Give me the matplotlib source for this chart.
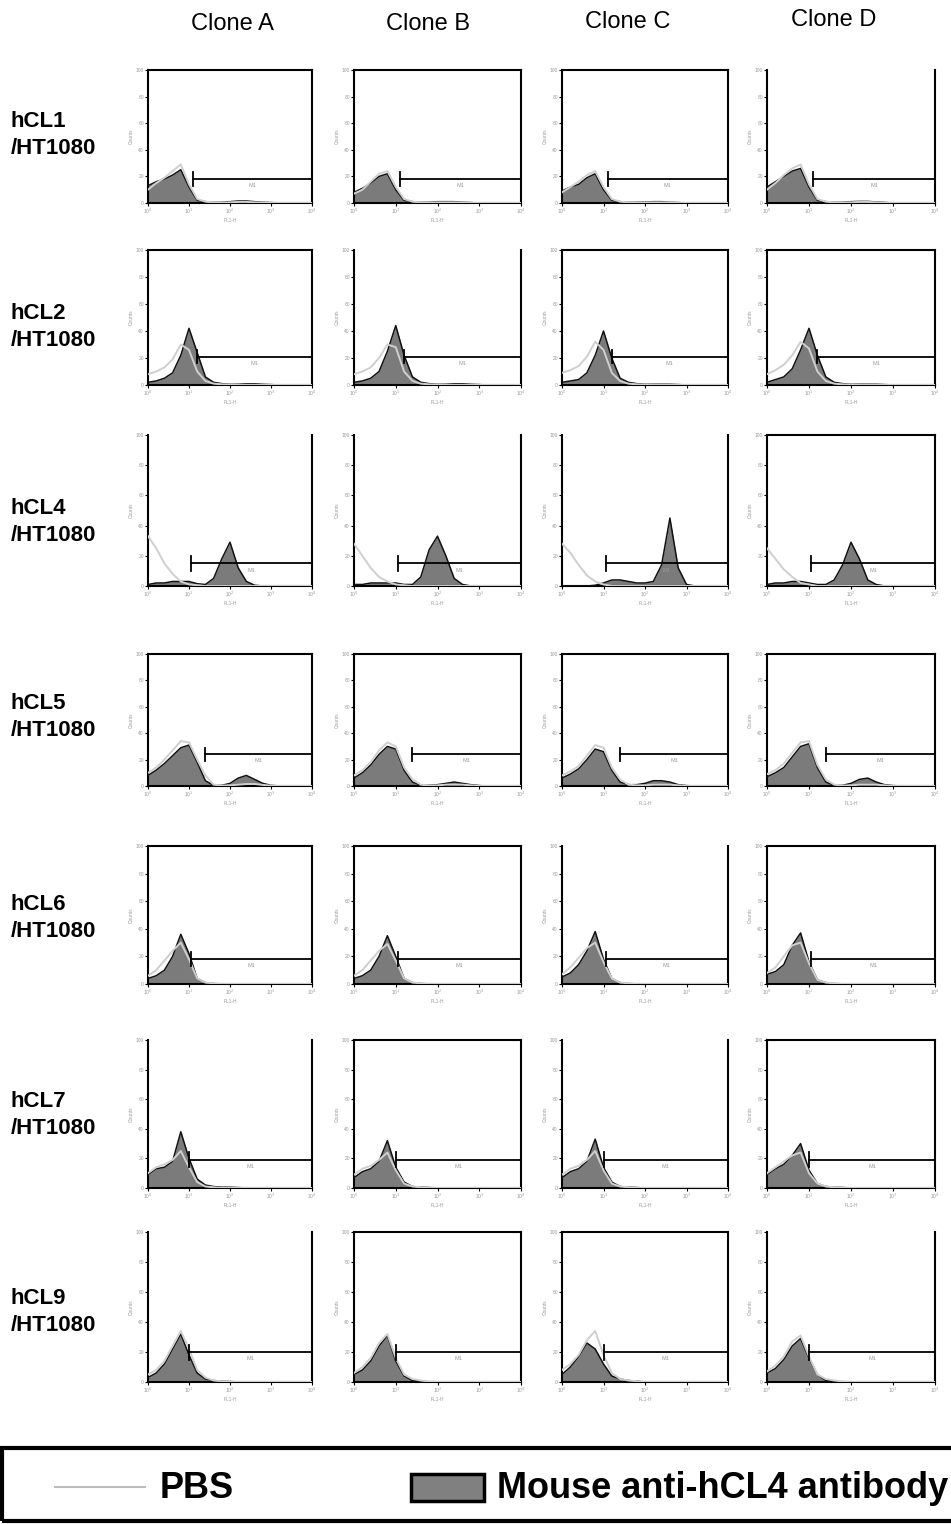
import matplotlib
matplotlib.use("Agg")
import matplotlib.pyplot as plt
import numpy as np
from matplotlib.patches import Rectangle
from matplotlib.lines import Line2D

plt.rcParams['font.family'] = ['Liberation Sans', 'DejaVu Sans']

# ---- data ----
clones = ['Clone A', 'Clone B', 'Clone C', 'Clone D']
cell_lines = ['hCL1', 'hCL2', 'hCL4', 'hCL5', 'hCL6', 'hCL7', 'hCL9']

# log10 fluorescence sample points (21 points, 10^0 .. 10^4)
decades = np.round(np.arange(0, 4.01, 0.2), 1)

# counts (percent of axis height), one list per clone A..D
ab_hcl1 = [[13, 16, 18, 21, 25, 12, 2, 1, 0.5, 0.5, 1, 1.5, 1.5, 1, 0.5, 0.3, 0, 0, 0, 0, 0],
           [8, 11, 15, 20, 22, 10, 2, 1, 0.5, 0.5, 1, 1, 1, 0.5, 0.3, 0, 0, 0, 0, 0, 0],
           [9, 12, 14, 19, 22, 10, 2, 1, 0.5, 0.5, 0.8, 1, 1, 0.5, 0.3, 0, 0, 0, 0, 0, 0],
           [12, 16, 20, 24, 26, 12, 2, 1, 0.5, 0.5, 1, 1.2, 1.2, 0.8, 0.4, 0, 0, 0, 0, 0, 0]]
pbs_hcl1 = [[10, 15, 19, 24, 29, 14, 3, 1, 0.5, 0.3, 0.5, 0.8, 0.8, 0.5, 0.2, 0, 0, 0, 0, 0, 0],
            [7, 10, 16, 22, 24, 12, 3, 1, 0.5, 0.3, 0.5, 0.5, 0.5, 0.3, 0, 0, 0, 0, 0, 0, 0],
            [8, 12, 16, 21, 24, 12, 3, 1, 0.5, 0.3, 0.5, 0.5, 0.5, 0.3, 0, 0, 0, 0, 0, 0, 0],
            [10, 15, 21, 26, 29, 14, 3, 1, 0.5, 0.3, 0.5, 0.8, 0.8, 0.5, 0.2, 0, 0, 0, 0, 0, 0]]

ab_hcl2 = [[2, 3, 5, 9, 22, 42, 24, 6, 2, 1, 0.5, 0.5, 0.8, 0.8, 0.5, 0.3, 0, 0, 0, 0, 0],
           [2, 3, 5, 10, 25, 44, 22, 6, 2, 1, 0.5, 0.5, 0.8, 0.8, 0.5, 0.3, 0, 0, 0, 0, 0],
           [2, 3, 4, 9, 22, 40, 20, 5, 2, 1, 0.5, 0.5, 0.5, 0.5, 0.3, 0, 0, 0, 0, 0, 0],
           [2, 4, 6, 12, 26, 42, 22, 6, 2, 1, 0.5, 0.5, 0.5, 0.5, 0.3, 0, 0, 0, 0, 0, 0]]
pbs_hcl2 = [[8, 10, 13, 19, 30, 26, 10, 3, 1, 0.5, 0.3, 0, 0, 0, 0, 0, 0, 0, 0, 0, 0],
            [8, 10, 13, 20, 30, 28, 10, 3, 1, 0.5, 0.3, 0, 0, 0, 0, 0, 0, 0, 0, 0, 0],
            [9, 11, 14, 21, 32, 26, 9, 3, 1, 0.5, 0.3, 0, 0, 0, 0, 0, 0, 0, 0, 0, 0],
            [8, 11, 15, 22, 32, 27, 10, 3, 1, 0.5, 0.3, 0, 0, 0, 0, 0, 0, 0, 0, 0, 0]]

ab_hcl4 = [[1, 2, 2, 3, 3, 3, 1.5, 1, 5, 18, 29, 12, 3, 0.5, 0, 0, 0, 0, 0, 0, 0],
           [1, 1, 2, 2, 2, 2, 1, 1, 6, 24, 33, 20, 5, 1, 0, 0, 0, 0, 0, 0, 0],
           [0, 0, 0, 0, 0.5, 2, 4, 4, 3, 2, 2, 3, 14, 45, 12, 1, 0, 0, 0, 0, 0],
           [1, 2, 2, 3, 3, 2, 1, 1, 4, 14, 29, 18, 4, 1, 0, 0, 0, 0, 0, 0, 0]]
pbs_hcl4 = [[33, 25, 15, 8, 3, 1, 0.5, 0, 0, 0, 0, 0, 0, 0, 0, 0, 0, 0, 0, 0, 0],
            [28, 20, 12, 6, 3, 1, 0.5, 0, 0, 0, 0, 0, 0, 0, 0, 0, 0, 0, 0, 0, 0],
            [28, 22, 14, 7, 3, 1, 0, 0, 0, 0, 0, 0, 0, 0, 0, 0, 0, 0, 0, 0, 0],
            [25, 18, 11, 6, 2, 1, 0, 0, 0, 0, 0, 0, 0, 0, 0, 0, 0, 0, 0, 0, 0]]

ab_hcl5 = [[8, 12, 17, 23, 29, 31, 18, 4, 0.5, 0.5, 2, 6, 8, 5, 2, 0.5, 0, 0, 0, 0, 0],
           [6, 10, 16, 24, 30, 28, 12, 3, 0.5, 0.5, 1, 2, 3, 2, 1, 0.3, 0, 0, 0, 0, 0],
           [6, 9, 13, 20, 28, 26, 12, 3, 1, 1, 2, 4, 4, 3, 1, 0.3, 0, 0, 0, 0, 0],
           [7, 10, 14, 22, 30, 32, 14, 3, 0.5, 0.5, 2, 5, 6, 3, 1, 0.3, 0, 0, 0, 0, 0]]
pbs_hcl5 = [[10, 14, 20, 27, 34, 33, 20, 8, 1, 0.3, 0.5, 1, 1.5, 1.5, 0.8, 0.3, 0, 0, 0, 0, 0],
            [8, 12, 18, 27, 33, 30, 14, 5, 1, 0.3, 0.5, 1, 1, 1, 0.5, 0, 0, 0, 0, 0, 0],
            [8, 11, 15, 23, 31, 29, 14, 5, 1, 0.5, 0.5, 1, 1, 1, 0.5, 0, 0, 0, 0, 0, 0],
            [9, 12, 17, 25, 33, 34, 16, 5, 1, 0.3, 0.5, 1, 1, 1, 0.5, 0, 0, 0, 0, 0, 0]]

ab_hcl6 = [[4, 6, 10, 20, 36, 22, 4, 1, 0.3, 0, 0, 0, 0, 0, 0, 0, 0, 0, 0, 0, 0],
           [4, 6, 10, 20, 35, 20, 4, 1, 0.3, 0, 0, 0, 0, 0, 0, 0, 0, 0, 0, 0, 0],
           [5, 8, 14, 24, 38, 18, 4, 1, 0.3, 0, 0, 0, 0, 0, 0, 0, 0, 0, 0, 0, 0],
           [7, 9, 14, 28, 37, 16, 3, 1, 0.3, 0, 0, 0, 0, 0, 0, 0, 0, 0, 0, 0, 0]]
pbs_hcl6 = [[6, 10, 17, 24, 30, 18, 4, 1, 0.5, 0, 0, 0, 0, 0, 0, 0, 0, 0, 0, 0, 0],
            [6, 10, 17, 24, 29, 17, 4, 1, 0.5, 0, 0, 0, 0, 0, 0, 0, 0, 0, 0, 0, 0],
            [7, 12, 19, 26, 30, 16, 4, 1, 0.5, 0, 0, 0, 0, 0, 0, 0, 0, 0, 0, 0, 0],
            [8, 12, 20, 28, 30, 15, 3, 1, 0.5, 0, 0, 0, 0, 0, 0, 0, 0, 0, 0, 0, 0]]

ab_hcl7 = [[9, 13, 14, 18, 38, 20, 6, 2, 1, 0.5, 0.5, 0.3, 0, 0, 0, 0, 0, 0, 0, 0, 0],
           [7, 11, 13, 18, 32, 14, 4, 1, 0.5, 0.3, 0, 0, 0, 0, 0, 0, 0, 0, 0, 0, 0],
           [7, 11, 13, 18, 33, 14, 4, 1, 0.5, 0.3, 0, 0, 0, 0, 0, 0, 0, 0, 0, 0, 0],
           [9, 13, 16, 22, 30, 12, 3, 1, 0.5, 0.3, 0, 0, 0, 0, 0, 0, 0, 0, 0, 0, 0]]
pbs_hcl7 = [[10, 14, 16, 19, 25, 14, 4, 1, 0.5, 0, 0, 0, 0, 0, 0, 0, 0, 0, 0, 0, 0],
            [9, 13, 15, 19, 24, 12, 3, 1, 0.5, 0, 0, 0, 0, 0, 0, 0, 0, 0, 0, 0, 0],
            [9, 13, 15, 19, 25, 12, 3, 1, 0.5, 0, 0, 0, 0, 0, 0, 0, 0, 0, 0, 0, 0],
            [10, 14, 18, 22, 24, 10, 3, 1, 0.5, 0, 0, 0, 0, 0, 0, 0, 0, 0, 0, 0, 0]]

ab_hcl9 = [[3, 6, 12, 22, 32, 18, 6, 2, 1, 0.5, 0.3, 0, 0, 0, 0, 0, 0, 0, 0, 0, 0],
           [5, 8, 14, 24, 31, 14, 4, 1, 0.5, 0, 0, 0, 0, 0, 0, 0, 0, 0, 0, 0, 0],
           [5, 10, 17, 26, 22, 12, 4, 2, 1, 0.5, 0, 0, 0, 0, 0, 0, 0, 0, 0, 0, 0],
           [6, 9, 15, 24, 29, 16, 5, 1, 0.5, 0, 0, 0, 0, 0, 0, 0, 0, 0, 0, 0, 0]]
pbs_hcl9 = [[5, 8, 14, 24, 34, 22, 8, 3, 1, 0.5, 0.3, 0, 0, 0, 0, 0, 0, 0, 0, 0, 0],
            [6, 10, 16, 26, 32, 16, 5, 2, 1, 0.3, 0, 0, 0, 0, 0, 0, 0, 0, 0, 0, 0],
            [8, 12, 18, 28, 34, 18, 6, 2, 1, 0.5, 0, 0, 0, 0, 0, 0, 0, 0, 0, 0, 0],
            [7, 11, 17, 27, 31, 17, 5, 2, 1, 0.3, 0, 0, 0, 0, 0, 0, 0, 0, 0, 0, 0]]

antibody = [ab_hcl1, ab_hcl2, ab_hcl4, ab_hcl5, ab_hcl6, ab_hcl7, ab_hcl9]
pbs = [pbs_hcl1, pbs_hcl2, pbs_hcl4, pbs_hcl5, pbs_hcl6, pbs_hcl7, pbs_hcl9]

# M1 marker: start (log10) and level (percent of axis height) per row
gate_start = [1.1, 1.2, 1.05, 1.4, 1.05, 1.0, 1.0]
gate_level = [18, 21, 15, 24, 18, 19, 20]

# ---- layout (pixels) ----
W, H = 951, 1524
col_l = [148, 354, 562, 767]
col_r = [312, 521, 728, 935]
row_t = [70, 250, 435, 654, 846, 1040, 1232]
row_b = [203, 385, 586, 786, 984, 1188, 1382]
no_top = {(0, 3), (1, 1), (2, 0), (2, 1), (2, 2), (4, 2), (5, 0), (5, 2), (6, 0), (6, 3)}
head_x = [232, 428, 628, 834]
head_y = [24, 24, 22, 20]
label_y = [135, 327, 522, 717, 918, 1115, 1312]

fig = plt.figure(figsize=(W / 100, H / 100), dpi=100)

fill_c = '#7b7b7b'
pbs_c = '#cfcfcf'
tiny_c = '#9a9a9a'

for r in range(len(cell_lines)):
    for c in range(len(clones)):
        l, rr, t, b = col_l[c], col_r[c], row_t[r], row_b[r]
        ax = fig.add_axes([l / W, 1 - b / H, (rr - l) / W, (b - t) / H])
        y_ab = np.array(antibody[r][c])
        y_pbs = np.array(pbs[r][c])
        ax.fill_between(decades, 0, y_ab, color=fill_c, lw=0, zorder=2)
        ax.plot(decades, y_ab, color='#111111', lw=1.1, zorder=3)
        ax.plot(decades, y_pbs, color=pbs_c, lw=1.4, zorder=4)
        # M1 gate
        g0, gy = gate_start[r], gate_level[r]
        ax.plot([g0, 4], [gy, gy], color='black', lw=1.3, zorder=5, clip_on=False)
        ax.plot([g0, g0], [gy - 5, gy + 5], color='black', lw=1.3, zorder=5)
        ax.text((g0 + 4) / 2, gy - 3, 'M1', fontsize=4, color=tiny_c, ha='center', va='top')
        ax.set_xlim(0, 4)
        ax.set_ylim(0, 100)
        for s in ax.spines.values():
            s.set_linewidth(1.5)
        if (r, c) in no_top:
            ax.spines['top'].set_visible(False)
        ax.set_xticks([0, 1, 2, 3, 4])
        ax.set_xticklabels(['10$^0$', '10$^1$', '10$^2$', '10$^3$', '10$^4$'])
        ax.set_yticks([0, 20, 40, 60, 80, 100])
        ax.set_yticklabels(['0', '20', '40', '60', '80', '100'])
        ax.tick_params(labelsize=3.5, labelcolor=tiny_c, length=2, width=0.8, pad=1)
        ax.set_xlabel('FL1-H', fontsize=3.5, color=tiny_c, labelpad=1)
        ax.set_ylabel('Counts', fontsize=3.5, color=tiny_c, labelpad=1)

# column headers
for c, name in enumerate(clones):
    fig.text(head_x[c] / W, 1 - head_y[c] / H, name, fontsize=17,
             ha='center', va='center')

# row labels
for r, name in enumerate(cell_lines):
    fig.text(11 / W, 1 - label_y[r] / H, name + '\n/HT1080', fontsize=16, fontweight='bold',
             ha='left', va='center', linespacing=1.35)

# legend box
fig.patches.append(Rectangle((2 / W, 1 - 1521 / H), 960 / W, 73 / H, transform=fig.transFigure,
                             fill=False, edgecolor='black', lw=3))
fig.lines.append(Line2D([55 / W, 145 / W], [1 - 1487 / H, 1 - 1487 / H],
                        transform=fig.transFigure, color='#bbbbbb', lw=1.5))
fig.text(160 / W, 1 - 1488 / H, 'PBS', fontsize=26, fontweight='bold', ha='left', va='center')
fig.patches.append(Rectangle((411 / W, 1 - 1501 / H), 73 / W, 27 / H, transform=fig.transFigure,
                             facecolor='#808080', edgecolor='black', lw=2.5))
fig.text(497 / W, 1 - 1488 / H, 'Mouse anti-hCL4 antibody', fontsize=26, fontweight='bold',
         ha='left', va='center')

fig.savefig('out.png', dpi=100)
